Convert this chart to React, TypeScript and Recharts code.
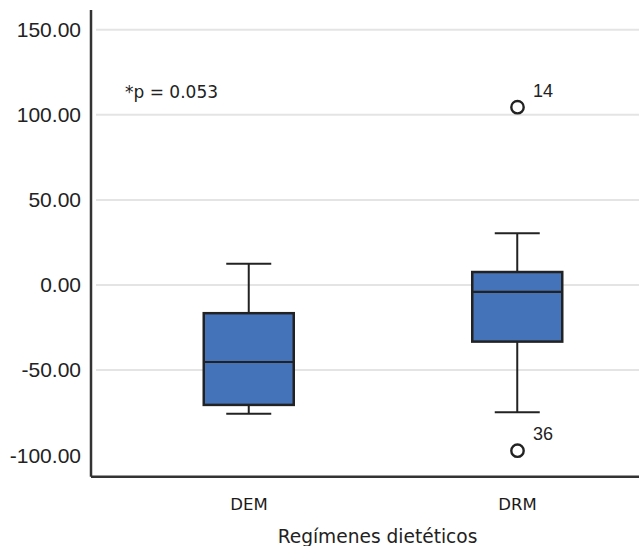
import React from 'react';
import { ComposedChart, Bar, Scatter, XAxis, YAxis, CartesianGrid } from 'recharts';

const categories = ['DEM', 'DRM'];
const whiskerLow = [-75.7, -74.8];
const q1Values = [-70.5, -33.3];
const medianValues = [-45.3, -4.1];
const q3Values = [-16.6, 7.6];
const whiskerHigh = [12.5, 30.4];

const outlierHighValues: (number | null)[] = [null, 104.5];
const outlierHighIds: (string | null)[] = [null, '14'];
const outlierLowValues: (number | null)[] = [null, -97.4];
const outlierLowIds: (string | null)[] = [null, '36'];

const yTicks = [-100, -50, 0, 50, 100, 150];
const gridValues = [-50, 0, 50, 100, 150];
const annotation = '*p = 0.053';
const xTitle = 'Regímenes dietéticos';

const boxData = categories.map((name, i) => ({
  name,
  min: whiskerLow[i],
  q1: q1Values[i],
  median: medianValues[i],
  q3: q3Values[i],
  max: whiskerHigh[i],
  outHi: outlierHighValues[i],
  outHiId: outlierHighIds[i],
  outLo: outlierLowValues[i],
  outLoId: outlierLowIds[i],
}));

const STROKE = '#222';
const FILL = '#4573B9';

const BoxShape = (props: any) => {
  const { x, y, width, height, payload } = props;
  if (!payload || x == null || y == null) return null;
  const top = Math.min(y, y + height);
  const bottom = Math.max(y, y + height);
  const k = (bottom - top) / (payload.max - payload.min);
  const py = (v: number) => bottom - (v - payload.min) * k;
  const cx = x + width / 2;
  const cap = width / 4;
  const yMax = py(payload.max);
  const yQ3 = py(payload.q3);
  const yMed = py(payload.median);
  const yQ1 = py(payload.q1);
  const yMin = py(payload.min);
  return (
    <g>
      <line x1={cx} x2={cx} y1={yMax} y2={yQ3} stroke={STROKE} strokeWidth={2} />
      <line x1={cx} x2={cx} y1={yQ1} y2={yMin} stroke={STROKE} strokeWidth={2} />
      <line x1={cx - cap} x2={cx + cap} y1={yMax} y2={yMax} stroke={STROKE} strokeWidth={2} />
      <line x1={cx - cap} x2={cx + cap} y1={yMin} y2={yMin} stroke={STROKE} strokeWidth={2} />
      <rect x={x} y={yQ3} width={width} height={yQ1 - yQ3} fill={FILL} stroke={STROKE} strokeWidth={2.5} />
      <line x1={x} x2={x + width} y1={yMed} y2={yMed} stroke={STROKE} strokeWidth={2.2} />
    </g>
  );
};

const makeOutlierShape = (idKey: string) => (props: any) => {
  const { cx, cy, payload } = props;
  if (cx == null || cy == null || isNaN(cx) || isNaN(cy) || !payload || payload[idKey] == null) return null;
  return (
    <g>
      <circle cx={cx} cy={cy} r={6.2} fill="#fff" stroke={STROKE} strokeWidth={2.4} />
      <text x={cx + 15.5} y={cy - 10.5} fontSize={18} fontFamily="Liberation Sans" fill={STROKE}>
        {payload[idKey]}
      </text>
    </g>
  );
};

const HiShape = makeOutlierShape('outHiId');
const LoShape = makeOutlierShape('outLoId');

const XTick = (props: any) => {
  const { x, y, payload } = props;
  return (
    <text x={x} y={y} dy={12} textAnchor="middle" fontSize={16.5} fontFamily="DejaVu Sans" fill="#1a1a1a">
      {payload.value}
    </text>
  );
};

export default function App() {
  return (
    <div style={{ position: 'absolute', left: 0, top: 0, width: 639, height: 546, background: '#fff' }}>
      <ComposedChart
        width={639}
        height={546}
        data={boxData}
        margin={{ top: 10, right: 0, bottom: 0, left: 0 }}
      >
        <CartesianGrid
          vertical={false}
          horizontalValues={gridValues}
          stroke="#e4e4e4"
          strokeWidth={2}
          x={96}
          width={543}
        />
        <XAxis
          dataKey="name"
          type="category"
          height={69.3}
          padding={{ left: 23.75, right: -12.75 }}
          tickLine={false}
          tickSize={0}
          tickMargin={21}
          axisLine={{ stroke: '#333', strokeWidth: 2.5 }}
          tick={XTick}
          label={{
            value: xTitle,
            position: 'insideBottom',
            offset: 3,
            dx: 12.5,
            fontSize: 18.6,
            fontFamily: 'DejaVu Sans',
            fill: '#222',
          }}
        />
        <YAxis
          type="number"
          width={91}
          domain={[-112.7, 161.6]}
          ticks={yTicks}
          allowDataOverflow
          tickFormatter={(v: number) => v.toFixed(2)}
          tickLine={false}
          tickSize={0}
          tickMargin={10}
          axisLine={{ stroke: '#333', strokeWidth: 2.5 }}
          tick={{ fontSize: 21, fontFamily: 'Liberation Sans', fill: '#222' }}
        />
        <Bar
          dataKey={(d: any) => [d.min, d.max]}
          barSize={90}
          isAnimationActive={false}
          shape={BoxShape}
        />
        <Scatter dataKey="outHi" isAnimationActive={false} shape={HiShape} />
        <Scatter dataKey="outLo" isAnimationActive={false} shape={LoShape} />
      </ComposedChart>
      <div
        style={{
          position: 'absolute',
          left: 125,
          top: 81.7,
          fontSize: 17,
          fontFamily: 'DejaVu Sans',
          color: '#222',
          whiteSpace: 'nowrap',
          lineHeight: 'normal',
        }}
      >
        {annotation}
      </div>
    </div>
  );
}
